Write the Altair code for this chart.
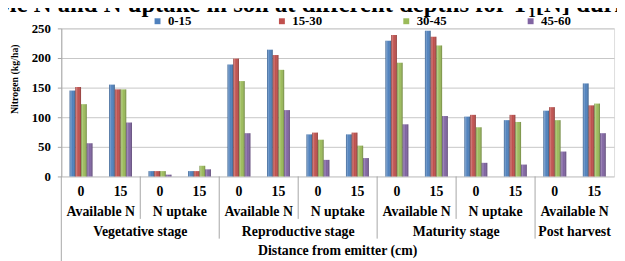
import altair as alt
import pandas as pd

depths = ["0-15", "15-30", "30-45", "45-60"]
colors = ["#4F81BD", "#C0504D", "#9BBB59", "#8064A2"]
stages = ["Vegetative stage", "Reproductive stage", "Maturity stage", "Post harvest"]
variables_by_stage = [["Available N", "N uptake"], ["Available N", "N uptake"],
                      ["Available N", "N uptake"], ["Available N"]]
distances = ["0", "15"]

v_0_15 = [145, 155, 9, 9, 189, 214, 71, 71, 229, 246, 101, 95, 111, 157]
v_15_30 = [151, 147, 9, 9, 199, 205, 74, 74, 239, 236, 104, 104, 117, 120]
v_30_45 = [122, 147, 9, 18, 161, 180, 62, 52, 192, 221, 83, 92, 95, 123]
v_45_60 = [56, 91, 3, 12, 73, 112, 28, 31, 88, 102, 23, 20, 42, 73]

title_text = "ble N and N uptake in soil at different depths for T\u2081[N] duri"
y_title = "Nitrogen (kg/ha)"
x_title = "Distance from emitter (cm)"

FONT = "Liberation Serif"

# ---- build tables ----
groups = []
row1, row2, row3 = [], [], []
var_seps, stage_seps = [], []
i = 0
for s_idx, (stage, vars_) in enumerate(zip(stages, variables_by_stage)):
    s_start = i
    if s_idx > 0:
        stage_seps.append(s_start)
    for v_idx, var in enumerate(vars_):
        v_start = i
        for d in distances:
            groups.append((stage, var, d))
            row1.append({"pos": i + 0.5, "label": d})
            i += 1
        row2.append({"pos": (v_start + i) / 2, "label": var})
        if v_idx < len(vars_) - 1:
            var_seps.append(i)
    row3.append({"pos": (s_start + i) / 2, "label": stage})
n_groups = i

series = [v_0_15, v_15_30, v_30_45, v_45_60]
recs = []
for gi, (stage, var, d) in enumerate(groups):
    key = f"{stage}|{var}|{d}"
    for di, dep in enumerate(depths):
        recs.append({"g": key, "depth": dep, "value": series[di][gi]})
df = pd.DataFrame(recs)
gkeys = [f"{s}|{v}|{d}" for s, v, d in groups]

xband = alt.X("g:N", sort=gkeys, axis=None,
              scale=alt.Scale(paddingInner=0.42, paddingOuter=0.21))
xoff = alt.XOffset("depth:N", sort=depths, scale=alt.Scale(paddingInner=0, paddingOuter=0))
yaxis = alt.Axis(values=[0, 50, 100, 150, 200, 250], grid=True, labelOverlap=False,
                 gridColor="#C6C6C6", domainColor="#A6A6A6",
                 tickColor="#A6A6A6", tickSize=4, labelPadding=7,
                 labelFont=FONT, labelFontSize=13, labelFontWeight="bold",
                 labelColor="#000000",
                 titleFont=FONT, titleFontSize=10, titleFontWeight="bold",
                 titleColor="#000000", titleX=-47, titleY=51,
                 titleAngle=270, titleAlign="center", titleBaseline="middle")
yenc = alt.Y("value:Q", title=y_title,
             scale=alt.Scale(domain=[0, 250], nice=False), axis=yaxis)

bars = alt.Chart(df).mark_bar().encode(
    x=xband, xOffset=xoff, y=yenc,
    color=alt.Color("depth:N", sort=depths,
                    scale=alt.Scale(domain=depths, range=colors),
                    legend=alt.Legend(title=None, orient="none", direction="horizontal",
                                      columns=4, gridAlign="all", columnPadding=78,
                                      legendX=91, legendY=-14, padding=0,
                                      symbolType="square", symbolSize=36,
                                      symbolStrokeWidth=0, labelOffset=4,
                                      labelFont=FONT, labelFontSize=13,
                                      labelFontWeight="bold", labelColor="#000000")),
)

shade = alt.Chart(df).mark_bar(
    color=alt.LinearGradient(
        gradient="linear", x1=0, x2=1, y1=0, y2=0,
        stops=[alt.GradientStop(color="rgba(0,0,0,0.25)", offset=0),
               alt.GradientStop(color="rgba(255,255,255,0.25)", offset=0.2),
               alt.GradientStop(color="rgba(255,255,255,0)", offset=0.5),
               alt.GradientStop(color="rgba(0,0,0,0.3)", offset=1)])
).encode(x=xband, xOffset=xoff, y=yenc)

xq = lambda: alt.X("pos:Q", axis=None, scale=alt.Scale(domain=[0, n_groups], nice=False, zero=False))

def text_layer(rows, ypix):
    return alt.Chart(pd.DataFrame(rows)).mark_text(
        font=FONT, fontSize=14, fontWeight="bold", color="#000000",
        baseline="middle", align="center"
    ).encode(x=xq(), y=alt.value(ypix), text="label:N")

t1 = text_layer(row1, 166)
t2 = text_layer(row2, 186)
t3 = text_layer(row3, 206)
t4 = alt.Chart(pd.DataFrame([{"pos": n_groups / 2, "label": x_title}])).mark_text(
    font=FONT, fontSize=14, fontWeight="bold", color="#000000",
    baseline="middle", align="center").encode(x=xq(), y=alt.value(226), text="label:N")

def rule_layer(positions, y2pix):
    return alt.Chart(pd.DataFrame({"pos": positions})).mark_rule(
        color="#A6A6A6", strokeWidth=1
    ).encode(x=xq(), y=alt.value(150), y2=alt.value(y2pix))

r_var = rule_layer(var_seps, 193)
r_stage = rule_layer(stage_seps, 213)
r_left = rule_layer([0], 240)

title = alt.Chart(pd.DataFrame({"t": [title_text]})).mark_text(
    font=FONT, fontSize=25, fontWeight="bold", color="#000000",
    align="left", baseline="alphabetic"
).encode(x=alt.value(-66), y=alt.value(-17), text="t:N")

chart = alt.layer(bars, shade, r_var, r_stage, r_left, t1, t2, t3, t4, title).resolve_scale(
    x="independent"
).properties(
    width=560, height=150,
    autosize=alt.AutoSizeParams(type="none"),
    padding={"left": 54, "top": 19, "right": 3, "bottom": 84},
).configure_view(stroke=None).configure(background="#ffffff")

chart.save("out.html", embed_options={"renderer": "svg", "actions": False})
